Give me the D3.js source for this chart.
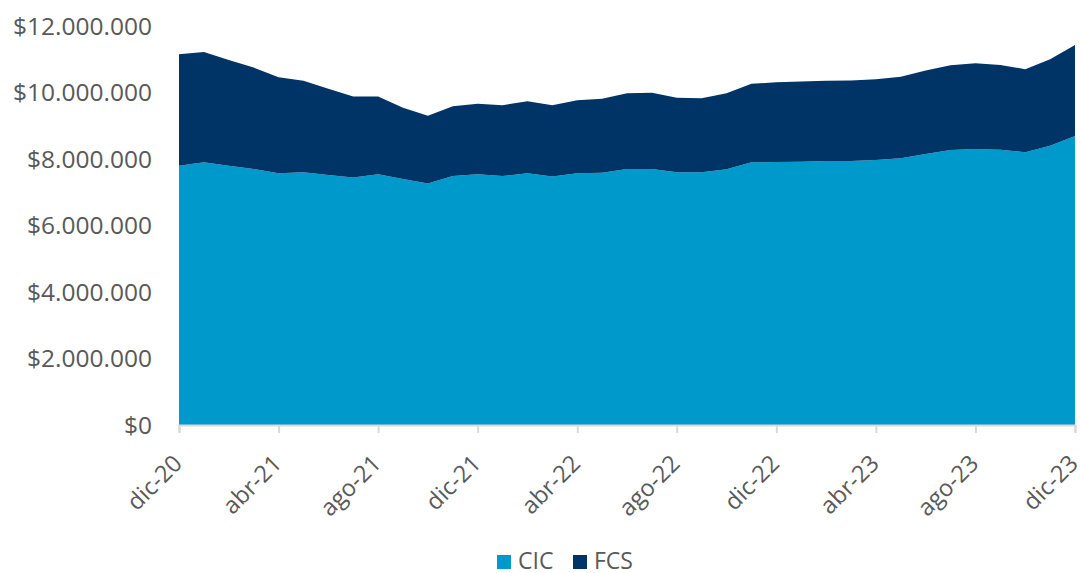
<!DOCTYPE html>
<html>
<head>
<meta charset="utf-8">
<script src="https://cdn.jsdelivr.net/npm/d3@7"></script>
<style>
  body { margin: 0; background: #fff; }
  svg text { font-family: "Open Sans", Lato, sans-serif; fill: #595959; }
</style>
</head>
<body>
<svg id="chart" width="1080" height="573"></svg>
<script>
// monthly labels dic-20 .. dic-23
const months = ["dic-20","ene-21","feb-21","mar-21","abr-21","may-21","jun-21","jul-21","ago-21","sep-21","oct-21","nov-21",
  "dic-21","ene-22","feb-22","mar-22","abr-22","may-22","jun-22","jul-22","ago-22","sep-22","oct-22","nov-22",
  "dic-22","ene-23","feb-23","mar-23","abr-23","may-23","jun-23","jul-23","ago-23","sep-23","oct-23","nov-23","dic-23"];

// values in millions
const cic = [7.80,7.90,7.80,7.70,7.57,7.60,7.52,7.44,7.54,7.40,7.26,7.49,
  7.54,7.49,7.57,7.47,7.57,7.59,7.70,7.70,7.60,7.60,7.69,7.90,
  7.91,7.92,7.94,7.94,7.97,8.02,8.15,8.27,8.30,8.28,8.20,8.40,8.69];
const fcs = [3.35,3.32,3.18,3.05,2.89,2.75,2.59,2.44,2.34,2.14,2.04,2.10,
  2.12,2.13,2.17,2.15,2.20,2.22,2.28,2.29,2.24,2.23,2.29,2.36,
  2.40,2.41,2.41,2.42,2.43,2.45,2.51,2.55,2.58,2.55,2.50,2.60,2.74];

const seriesNames = ["CIC", "FCS"];
const colors = ["#0099cc", "#003366"];
const yTicks = [0, 2, 4, 6, 8, 10, 12];

(function() {
  const svg = d3.select("#chart");
  const left = 179, right = 1075, bottom = 425, top = 26;

  const rows = months.map((m, i) => ({ i: i, month: m, CIC: cic[i] * 1e6, FCS: fcs[i] * 1e6 }));

  const x = d3.scaleLinear().domain([0, months.length - 1]).range([left, right]);
  const y = d3.scaleLinear().domain([0, 12e6]).range([bottom, top]);

  const stacked = d3.stack().keys(seriesNames)(rows);

  const area = d3.area()
    .x(d => x(d.data.i))
    .y0(d => y(d[0]))
    .y1(d => y(d[1]));

  svg.selectAll("path.area")
    .data(stacked)
    .enter()
    .append("path")
    .attr("class", "area")
    .attr("fill", (d, i) => colors[i])
    .attr("d", area);

  // y axis labels (no line)
  const fmt = v => "$" + d3.format(",")(v * 1e6).replace(/,/g, ".");
  const yAxis = svg.append("g")
    .attr("transform", "translate(" + left + ",0)")
    .call(d3.axisLeft(y).tickValues(yTicks.map(v => v * 1e6)).tickSize(0).tickPadding(27)
      .tickFormat(v => fmt(v / 1e6)));
  yAxis.select(".domain").remove();
  yAxis.selectAll("text")
    .style("font-size", "24.5px")
    .attr("dy", "0.34em");

  // x axis
  const tickIdx = d3.range(0, months.length, 4);
  const xAxis = svg.append("g")
    .attr("transform", "translate(0," + bottom + ")")
    .call(d3.axisBottom(x).tickValues(tickIdx).tickSize(8).tickFormat(i => months[i]));
  xAxis.select(".domain").attr("stroke", "#d9d9d9").attr("stroke-width", 2);
  xAxis.selectAll(".tick line").attr("stroke", "#d9d9d9").attr("stroke-width", 2);
  xAxis.selectAll("text")
    .style("font-size", "23.5px")
    .attr("text-anchor", "end")
    .attr("y", 0)
    .attr("dy", 0)
    .attr("transform", "translate(4,40) rotate(-45)");

  // legend
  const legendX = [497, 573];
  const legend = svg.append("g");
  seriesNames.forEach((name, i) => {
    legend.append("rect")
      .attr("x", legendX[i])
      .attr("y", 555)
      .attr("width", 14)
      .attr("height", 14)
      .attr("fill", colors[i]);
    legend.append("text")
      .attr("x", legendX[i] + 21)
      .attr("y", 561)
      .attr("dy", "0.36em")
      .style("font-size", "23px")
      .text(name);
  });
})();
</script>
</body>
</html>
